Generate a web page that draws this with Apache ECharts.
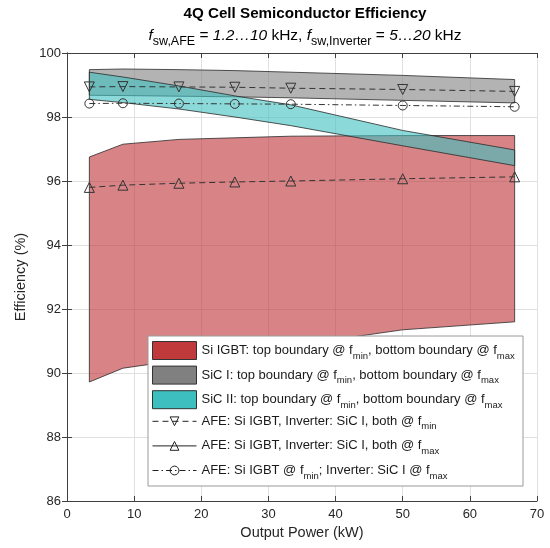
<!DOCTYPE html>
<html>
<head>
<meta charset="utf-8">
<script src="https://cdn.jsdelivr.net/npm/echarts@6/dist/echarts.min.js"></script>
<style>html,body{margin:0;padding:0;background:#fff}#c{width:550px;height:548px}</style>
</head>
<body>
<div id="c"></div>
<script>
// ---- data ----
const power = [3.33, 8.33, 16.67, 25, 33.33, 50, 66.67];
const siIgbtTop = [96.75, 97.15, 97.3, 97.35, 97.4, 97.42, 97.42];
const siIgbtBottom = [89.72, 90.15, 90.4, 90.6, 90.85, 91.35, 91.6];
const sic1Top = [99.48, 99.5, 99.48, 99.45, 99.4, 99.3, 99.17];
const sic1Bottom = [98.68, 98.67, 98.65, 98.63, 98.6, 98.52, 98.44];
const sic2Top = [99.4, 99.25, 98.97, 98.66, 98.38, 97.58, 96.97];
const sic2Bottom = [98.55, 98.45, 98.25, 98.0, 97.73, 97.1, 96.48];
const afeBothFmin = [98.94, 98.95, 98.94, 98.93, 98.9, 98.86, 98.8];
const afeBothFmax = [95.8, 95.87, 95.93, 95.97, 96.0, 96.07, 96.13];
const afeMixed = [98.42, 98.43, 98.42, 98.41, 98.4, 98.36, 98.32];
const xTicks = [0, 10, 20, 30, 40, 50, 60, 70];
const yTicks = [86, 88, 90, 92, 94, 96, 98, 100];

const FONT = '"Liberation Sans", Arial, Helvetica, sans-serif';
const TXT = '#262626';

const names = {
  r: 'Si IGBT band', g: 'SiC I band', c: 'SiC II band',
  l1: 'AFE both fmin', l2: 'AFE both fmax', l3: 'AFE mixed'
};
const legendLabels = {};
legendLabels[names.r] = '{n|Si IGBT: top boundary @ f}{s|min}{n|, bottom boundary @ f}{s|max}';
legendLabels[names.g] = '{n|SiC I: top boundary @ f}{s|min}{n|, bottom boundary @ f}{s|max}';
legendLabels[names.c] = '{n|SiC II: top boundary @ f}{s|min}{n|, bottom boundary @ f}{s|max}';
legendLabels[names.l1] = '{n|AFE: Si IGBT, Inverter: SiC I, both @ f}{s|min}';
legendLabels[names.l2] = '{n|AFE: Si IGBT, Inverter: SiC I, both @ f}{s|max}';
legendLabels[names.l3] = '{n|AFE: Si IGBT @ f}{s|min}{n|; Inverter: SiC I @ f}{s|max}';

const DASH = [6, 4];
const DASHDOT = [6, 3, 1.5, 3];

function band(name, top, bottom, fill, solid) {
  return {
    type: 'custom', name: name, z: 2,
    data: power.map((x, i) => [x, bottom[i], top[i]]),
    encode: { x: 0, y: [1, 2] },
    itemStyle: { color: solid, borderColor: '#262626', borderWidth: 1 },
    silent: true,
    renderItem: function (params, api) {
      if (params.dataIndex !== 0) return null;
      const pts = [];
      for (let i = 0; i < power.length; i++) pts.push(api.coord([power[i], top[i]]));
      for (let i = power.length - 1; i >= 0; i--) pts.push(api.coord([power[i], bottom[i]]));
      return {
        type: 'polygon', shape: { points: pts },
        style: { fill: fill, stroke: '#2a2a2a', lineWidth: 0.8 }
      };
    }
  };
}

function line(name, vals, symbol, rotate, dash, size) {
  return {
    type: 'line', name: name, z: 5,
    data: power.map((x, i) => [x, vals[i]]),
    symbol: symbol, symbolRotate: rotate, symbolSize: size, showSymbol: true,
    lineStyle: { color: '#333', width: 1, type: dash },
    itemStyle: { color: 'rgba(0,0,0,0)', borderColor: '#333', borderWidth: 1 },
    silent: true, animation: false
  };
}

const richLegend = {
  n: { fontFamily: FONT, fontSize: 13, color: '#1a1a1a', lineHeight: 20 },
  s: { fontFamily: FONT, fontSize: 9.5, color: '#1a1a1a', lineHeight: 20, padding: [11, 0, 0, 0] }
};

const axisCommon = {
  axisLine: { show: true, lineStyle: { color: '#404040', width: 1 } },
  axisTick: { show: true, inside: true, length: 5, lineStyle: { color: '#404040' } }
};

const hollow = { color: 'rgba(0,0,0,0)', borderColor: '#222', borderWidth: 1 };

const option = {
  animation: false,
  backgroundColor: '#fff',
  title: {
    left: 305, top: 3, textAlign: 'center', padding: 0,
    text: '{b|4Q Cell Semiconductor Efficiency}\n{i|f}{s|sw,AFE}{n| = }{i|1.2…10}{n| kHz, }{i|f}{s|sw,Inverter}{n| = }{i|5…20}{n| kHz}',
    textStyle: {
      fontWeight: 'normal',
      rich: {
        b: { fontFamily: FONT, fontSize: 15.2, fontWeight: 'bold', color: '#000', lineHeight: 22 },
        n: { fontFamily: FONT, fontSize: 15.5, fontWeight: 'normal', color: '#000', lineHeight: 22 },
        i: { fontFamily: FONT, fontSize: 15.5, fontWeight: 'normal', fontStyle: 'italic', color: '#000', lineHeight: 22 },
        s: { fontFamily: FONT, fontSize: 12.5, fontWeight: 'normal', color: '#000', lineHeight: 22, padding: [12, 0, 0, 0] }
      }
    }
  },
  grid: { left: 67, right: 13, top: 53, bottom: 47, containLabel: false },
  xAxis: [
    Object.assign({
      type: 'value', min: xTicks[0], max: xTicks[xTicks.length - 1], interval: 10, position: 'bottom',
      name: 'Output Power (kW)', nameLocation: 'middle', nameGap: 11,
      nameTextStyle: { fontFamily: FONT, fontSize: 14.5, color: TXT },
      axisLabel: { fontFamily: FONT, fontSize: 13, color: TXT, margin: 7 },
      splitLine: { show: true, lineStyle: { color: '#e0e0e0', width: 1 } }
    }, axisCommon),
    Object.assign({
      type: 'value', min: xTicks[0], max: xTicks[xTicks.length - 1], interval: 10, position: 'top',
      axisLabel: { show: false }, splitLine: { show: false }
    }, axisCommon)
  ],
  yAxis: [
    Object.assign({
      type: 'value', min: yTicks[0], max: yTicks[yTicks.length - 1], interval: 2, position: 'left',
      name: 'Efficiency (%)', nameLocation: 'middle', nameGap: 31,
      nameTextStyle: { fontFamily: FONT, fontSize: 14.5, color: TXT },
      axisLabel: { fontFamily: FONT, fontSize: 13, color: TXT, margin: 6 },
      splitLine: { show: true, lineStyle: { color: '#e0e0e0', width: 1 } }
    }, axisCommon),
    Object.assign({
      type: 'value', min: yTicks[0], max: yTicks[yTicks.length - 1], interval: 2, position: 'right',
      axisLabel: { show: false }, splitLine: { show: false }
    }, axisCommon)
  ],
  graphic: [{
    type: 'rect', z: 3, silent: true,
    shape: { x: 148, y: 336, width: 375, height: 150 },
    style: { fill: '#fff', stroke: '#9a9a9a', lineWidth: 1 }
  }],
  legend: [
    {
      orient: 'vertical', left: 152, top: 340, padding: 0, itemGap: 3.6,
      itemWidth: 44, itemHeight: 18, selectedMode: false, z: 10,
      formatter: n => legendLabels[n],
      textStyle: { rich: richLegend },
      data: [
        { name: names.r, icon: 'rect', itemStyle: { color: 'rgb(192,57,59)', borderColor: '#333', borderWidth: 1 } },
        { name: names.g, icon: 'rect', itemStyle: { color: 'rgb(128,128,128)', borderColor: '#333', borderWidth: 1 } },
        { name: names.c, icon: 'rect', itemStyle: { color: 'rgb(61,191,191)', borderColor: '#333', borderWidth: 1 } }
      ]
    },
    {
      orient: 'vertical', left: 152, top: 410.8, padding: 0, itemGap: 3.6,
      itemWidth: 44, itemHeight: 11, selectedMode: false, z: 10,
      formatter: n => legendLabels[n],
      textStyle: { rich: richLegend },
      itemStyle: hollow,
      lineStyle: { color: '#222', width: 1 },
      data: [
        { name: names.l1, itemStyle: hollow, lineStyle: { color: '#222', width: 1, type: DASH } },
        { name: names.l2, itemStyle: hollow, lineStyle: { color: '#222', width: 1, type: 'solid' } },
        { name: names.l3, itemStyle: hollow, lineStyle: { color: '#222', width: 1, type: DASHDOT } }
      ]
    }
  ],
  series: [
    band(names.r, siIgbtTop, siIgbtBottom, 'rgba(192,57,59,0.62)', 'rgb(192,57,59)'),
    band(names.g, sic1Top, sic1Bottom, 'rgba(128,128,128,0.6)', 'rgb(128,128,128)'),
    band(names.c, sic2Top, sic2Bottom, 'rgba(61,191,191,0.6)', 'rgb(61,191,191)'),
    line(names.l1, afeBothFmin, 'triangle', 180, DASH, 10),
    line(names.l2, afeBothFmax, 'triangle', 0, DASH, 10),
    line(names.l3, afeMixed, 'circle', 0, DASHDOT, 9)
  ]
};

const chart = echarts.init(document.getElementById('c'), null, { renderer: 'canvas' });
chart.setOption(option);
</script>
</body>
</html>
